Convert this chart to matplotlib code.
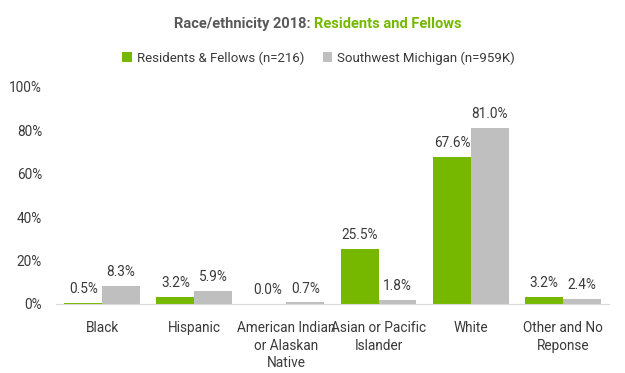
import numpy as np
import matplotlib
matplotlib.use("Agg")
from matplotlib import pyplot as plt

plt.rcParams['font.family'] = ['Roboto', 'DejaVu Sans']

categories = ["Black", "Hispanic", "American Indian\nor Alaskan\nNative",
              "Asian or Pacific\nIslander", "White", "Other and No\nReponse"]
residents = [0.5, 3.2, 0.0, 25.5, 67.6, 3.2]
swmich = [8.3, 5.9, 0.7, 1.8, 81.0, 2.4]
series_names = ["Residents & Fellows (n=216)", "Southwest Michigan (n=959K)"]

green = "#76B800"
gray = "#BFBFBF"
text_col = "#3A3A3A"

fig = plt.figure(figsize=(6.25, 3.73), dpi=100)
ax = fig.add_axes([0.0896, 0.185, 0.885, 0.582])

x = np.arange(len(categories))
w = 0.41
b1 = ax.bar(x - w / 2, residents, w, color=green, label=series_names[0])
b2 = ax.bar(x + w / 2, swmich, w, color=gray, label=series_names[1])

for bars, vals in ((b1, residents), (b2, swmich)):
    for r, v in zip(bars, vals):
        ax.annotate(f"{v:.1f}%", (r.get_x() + r.get_width() / 2, v),
                    xytext=(0, 5), textcoords="offset points",
                    ha="center", va="bottom", fontsize=9.8, color=text_col)

ax.set_ylim(0, 100)
ax.set_xlim(-0.5, len(categories) - 0.5)
ax.set_yticks(range(0, 101, 20))
ax.set_yticklabels([f"{t}%" for t in range(0, 101, 20)])
ax.set_xticks(x)
ax.set_xticklabels(categories, linespacing=1.35)
ax.tick_params(length=0, labelsize=9.8, colors=text_col)
ax.tick_params(axis="y", pad=10)
ax.tick_params(axis="x", pad=12)
for s in ("top", "right", "left"):
    ax.spines[s].set_visible(False)
ax.spines["bottom"].set_color("#D9D9D9")

fig.text(0.502, 0.935, "Race/ethnicity 2018: ", ha="right", va="center",
         fontsize=10.5, fontweight="bold", color="#595959")
fig.text(0.502, 0.935, "Residents and Fellows", ha="left", va="center",
         fontsize=10.5, fontweight="bold", color=green)

ax.legend(loc="center", bbox_to_anchor=(0.51, 0.845), bbox_transform=fig.transFigure,
          ncol=2, frameon=False, fontsize=9.5, handlelength=0.7, handleheight=0.7,
          columnspacing=1.4, handletextpad=0.4, labelcolor=text_col)

fig.savefig("out.png")
